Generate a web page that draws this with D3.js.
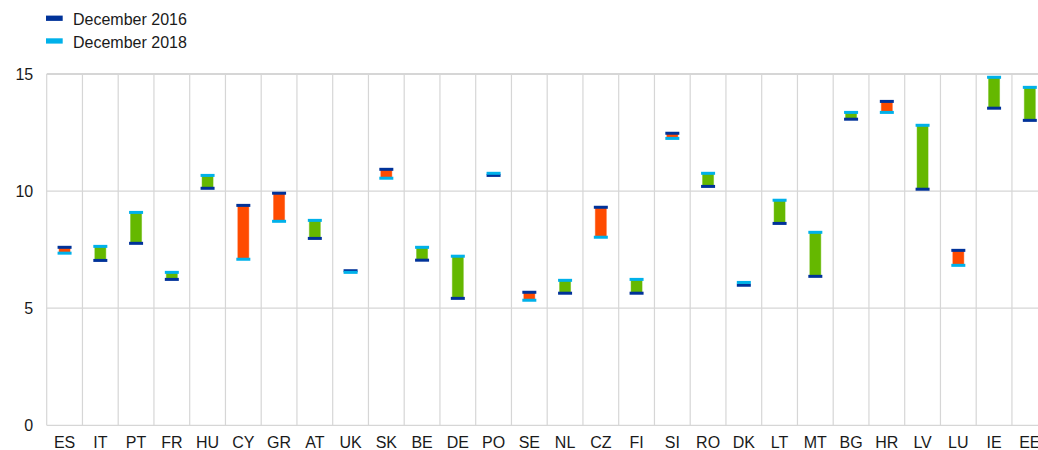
<!DOCTYPE html>
<html>
<head>
<meta charset="utf-8">
<script src="https://cdn.jsdelivr.net/npm/d3@7"></script>
<style>
  body { margin: 0; background: #fff; }
  svg { display: block; font-family: "Liberation Sans", Arial, sans-serif; }
</style>
</head>
<body>
<div id="chart"></div>
<script>
// categories
var countries = ["ES", "IT", "PT", "FR", "HU", "CY", "GR", "AT", "UK", "SK", "BE", "DE", "PO", "SE",
                 "NL", "CZ", "FI", "SI", "RO", "DK", "LT", "MT", "BG", "HR", "LV", "LU", "IE", "EE"];

// values
var dec2016 = [7.60, 7.04, 7.77, 6.23, 10.12, 9.39, 9.91, 7.98, 6.60, 10.93, 7.05, 5.42, 10.67, 5.68,
               5.64, 9.31, 5.64, 12.47, 10.20, 5.98, 8.62, 6.36, 13.07, 13.83, 10.08, 7.47, 13.54, 13.02];
var dec2018 = [7.35, 7.64, 9.09, 6.53, 10.67, 7.09, 8.71, 8.75, 6.53, 10.55, 7.60, 7.22, 10.76, 5.34,
               6.19, 8.03, 6.23, 12.25, 10.76, 6.10, 9.61, 8.24, 13.36, 13.36, 12.81, 6.83, 14.86, 14.43];

var yTicks = [0, 5, 10, 15];
var seriesNames = ["December 2016", "December 2018"];

var w = 1038, h = 450;
var left = 46.7, bandW = 35.75;
var colDark = "#003299", colLight = "#00B1EA", colUp = "#65B800", colDown = "#FF4B00";
var gridCol = "#d6d6d6";

var svg = d3.select("#chart").append("svg")
  .attr("width", w)
  .attr("height", h);

var x = d3.scaleBand()
  .domain(countries)
  .range([left, left + countries.length * bandW])
  .padding(0);

var y = d3.scaleLinear()
  .domain([0, 15])
  .range([425.3, 74]);

// horizontal grid
svg.selectAll("line.hgrid")
  .data(yTicks)
  .enter()
  .append("line")
  .attr("class", "hgrid")
  .attr("x1", left)
  .attr("x2", w)
  .attr("y1", function(d) { return y(d); })
  .attr("y2", function(d) { return y(d); })
  .attr("stroke", gridCol)
  .attr("stroke-width", function(d) { return d == 15 ? 2 : 1.2; });

// vertical grid at category boundaries
svg.selectAll("line.vgrid")
  .data(countries)
  .enter()
  .append("line")
  .attr("class", "vgrid")
  .attr("x1", function(d) { return x(d); })
  .attr("x2", function(d) { return x(d); })
  .attr("y1", y(15))
  .attr("y2", y(0))
  .attr("stroke", gridCol)
  .attr("stroke-width", 1.2);

// y axis labels
var yAxis = svg.append("g")
  .attr("transform", "translate(" + (left - 13.5) + ",0)")
  .call(d3.axisLeft(y).tickValues(yTicks).tickSize(0).tickPadding(0));
yAxis.select(".domain").remove();
yAxis.selectAll("text")
  .attr("font-size", "16px")
  .attr("font-family", "Liberation Sans, Arial, sans-serif")
  .attr("fill", "#1a1a1a");

// x axis labels
var xAxis = svg.append("g")
  .attr("transform", "translate(0," + y(0) + ")")
  .call(d3.axisBottom(x).tickSize(0).tickPadding(11.5));
xAxis.select(".domain").remove();
xAxis.selectAll("text")
  .attr("font-size", "16px")
  .attr("font-family", "Liberation Sans, Arial, sans-serif")
  .attr("fill", "#1a1a1a");

var data = countries.map(function(c, i) {
  return { c: c, a: dec2016[i], b: dec2018[i] };
});

function cx(d) { return x(d.c) + x.bandwidth() / 2; }

// bodies between the two dates
svg.selectAll("rect.body")
  .data(data)
  .enter()
  .append("rect")
  .attr("class", "body")
  .attr("x", function(d) { return cx(d) - 5.5; })
  .attr("width", 11)
  .attr("y", function(d) { return y(Math.max(d.a, d.b)); })
  .attr("height", function(d) { return Math.abs(y(d.a) - y(d.b)); })
  .attr("fill", function(d) { return d.b >= d.a ? colUp : colDown; })
  .attr("stroke", function(d) { return d.b >= d.a ? colUp : colDown; })
  .attr("stroke-opacity", 0.45)
  .attr("stroke-width", 1);

// December 2016 markers
svg.selectAll("rect.m16")
  .data(data)
  .enter()
  .append("rect")
  .attr("class", "m16")
  .attr("x", function(d) { return cx(d) - 7; })
  .attr("width", 14)
  .attr("y", function(d) { return y(d.a) - 1.5; })
  .attr("height", 3)
  .attr("fill", colDark);

// December 2018 markers
svg.selectAll("rect.m18")
  .data(data)
  .enter()
  .append("rect")
  .attr("class", "m18")
  .attr("x", function(d) { return cx(d) - 7; })
  .attr("width", 14)
  .attr("y", function(d) { return y(d.b) - 1.5; })
  .attr("height", 3)
  .attr("fill", colLight);

// legend
var legend = svg.selectAll("g.legend")
  .data(seriesNames)
  .enter()
  .append("g")
  .attr("class", "legend")
  .attr("transform", function(d, i) { return "translate(46," + (18.3 + i * 22.7) + ")"; });

legend.append("rect")
  .attr("x", 0)
  .attr("y", -2.7)
  .attr("width", 16.7)
  .attr("height", 5.3)
  .attr("fill", function(d, i) { return i == 0 ? colDark : colLight; });

legend.append("text")
  .text(function(d) { return d; })
  .attr("x", 27)
  .attr("y", 6.8)
  .attr("font-size", "16px")
  .attr("fill", "#1a1a1a");
</script>
</body>
</html>
